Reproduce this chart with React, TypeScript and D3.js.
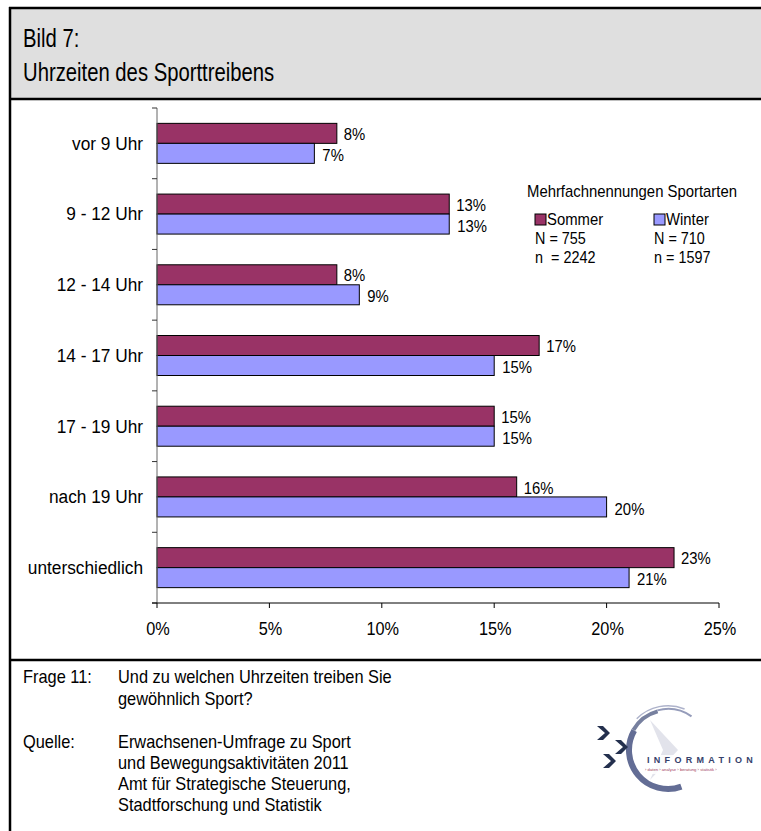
import React from "react";
import * as d3 from "d3";

const categories = ["vor 9 Uhr", "9 - 12 Uhr", "12 - 14 Uhr", "14 - 17 Uhr", "17 - 19 Uhr", "nach 19 Uhr", "unterschiedlich"];
const sommer = [8, 13, 8, 17, 15, 16, 23];
const winter = [7, 13, 9, 15, 15, 20, 21];
const xTicks = [0, 5, 10, 15, 20, 25];
const seriesNames = ["Sommer", "Winter"];
const seriesN = ["N = 755", "N = 710"];
const seriesn = ["n  = 2242", "n = 1597"];
const colors = ["#993366", "#9999FF"];

const FONT = "'Liberation Sans', Arial, sans-serif";

type TProps = {
  x: number; y: number; size: number; sx?: number; anchor?: string; fill?: string;
  children: React.ReactNode; ls?: number; weight?: string;
};
function T({ x, y, size, sx = 1, anchor = "start", fill = "#000", children, ls, weight }: TProps) {
  return (
    <text transform={`translate(${x},${y}) scale(${sx},1)`} dy="0.35em" fontSize={size}
      textAnchor={anchor} fill={fill} letterSpacing={ls} fontWeight={weight} style={{ whiteSpace: "pre" }}>
      {children}
    </text>
  );
}

export default function App() {
  const W = 761, H = 831;
  const x = d3.scaleLinear().domain([0, 25]).range([157, 719]);
  const y = d3.scaleBand<string>().domain(categories).range([108, 603]);
  const barH = 20;
  const bandCenter = (c: string) => (y(c) as number) + y.bandwidth() / 2;
  const boundaries = d3.range(categories.length + 1).map((i) => 108 + i * y.bandwidth());
  const deg = Math.PI / 180;
  const chevron = (cx: number, cy: number) =>
    `M ${cx - 5} ${cy - 7} L ${cx + 3} ${cy} L ${cx - 5} ${cy + 7} L ${cx + 1} ${cy + 7} L ${cx + 8} ${cy} L ${cx + 1} ${cy - 7} Z`;

  return (
    <svg width={W} height={H} style={{ position: "absolute", left: 0, top: 0, display: "block" }} fontFamily={FONT}>
      <rect x={0} y={0} width={W} height={H} fill="#fff" />
      {/* header */}
      <rect x={10} y={8} width={W - 10} height={91} fill="#dfdfdf" />
      <line x1={9} x2={W} y1={8} y2={8} stroke="#000" strokeWidth={2.5} />
      <line x1={9} x2={W} y1={99} y2={99} stroke="#000" strokeWidth={2.5} />
      <line x1={10} x2={10} y1={7} y2={H} stroke="#000" strokeWidth={2.5} />
      <line x1={9} x2={W} y1={660} y2={660} stroke="#000" strokeWidth={2.5} />
      <T x={23} y={38} size={26} sx={0.78}>Bild 7:</T>
      <T x={23} y={72} size={26} sx={0.78}>Uhrzeiten des Sporttreibens</T>

      {/* bars */}
      {categories.map((c, i) => {
        const cy = bandCenter(c);
        return (
          <g key={c}>
            <rect x={x(0)} y={cy - barH} width={x(sommer[i]) - x(0)} height={barH} fill={colors[0]} stroke="#000" strokeWidth={1} />
            <rect x={x(0)} y={cy} width={x(winter[i]) - x(0)} height={barH} fill={colors[1]} stroke="#000" strokeWidth={1} />
            <T x={x(sommer[i]) + 7} y={cy - 9} size={16} sx={0.93}>{sommer[i]}%</T>
            <T x={x(winter[i]) + 8} y={cy + 12} size={16} sx={0.93}>{winter[i]}%</T>
            <T x={143} y={cy} size={18} sx={0.96} anchor="end">{c}</T>
          </g>
        );
      })}

      {/* axes */}
      <line x1={157} x2={157} y1={108} y2={603} stroke="#666" strokeWidth={1} />
      {boundaries.map((b, i) => (
        <line key={i} x1={152} x2={157} y1={b} y2={b} stroke="#333" strokeWidth={1} />
      ))}
      <line x1={152} x2={x(25)} y1={603} y2={603} stroke="#000" strokeWidth={1} />
      {xTicks.map((t) => (
        <g key={t}>
          <line x1={x(t)} x2={x(t)} y1={603} y2={608} stroke="#000" strokeWidth={1} />
          <T x={x(t) + 1} y={629} size={18.5} sx={0.88} anchor="middle">{t}%</T>
        </g>
      ))}

      {/* legend */}
      <T x={527} y={191} size={16} sx={0.93}>Mehrfachnennungen Sportarten</T>
      {seriesNames.map((s, i) => {
        const lx = i === 0 ? 535 : 654;
        return (
          <g key={s}>
            <rect x={lx} y={214} width={11} height={11} fill={colors[i]} stroke="#000" strokeWidth={1} />
            <T x={lx + 12} y={219} size={16.5} sx={0.9}>{s}</T>
            <T x={lx} y={238} size={16} sx={0.9}>{seriesN[i]}</T>
            <T x={lx} y={257} size={16} sx={0.9}>{seriesn[i]}</T>
          </g>
        );
      })}

      {/* footer */}
      <g>
        <T x={23} y={677} size={18} sx={0.91}>Frage 11:</T>
        <T x={118} y={677} size={18} sx={0.91}>Und zu welchen Uhrzeiten treiben Sie</T>
        <T x={118} y={699} size={18} sx={0.91}>gewöhnlich Sport?</T>
        <T x={23} y={742} size={18} sx={0.91}>Quelle:</T>
        <T x={118} y={742} size={18} sx={0.91}>Erwachsenen-Umfrage zu Sport</T>
        <T x={118} y={763} size={18} sx={0.91}>und Bewegungsaktivitäten 2011</T>
        <T x={118} y={784} size={18} sx={0.91}>Amt für Strategische Steuerung,</T>
        <T x={118} y={805} size={18} sx={0.91}>Stadtforschung und Statistik</T>
      </g>

      {/* logo */}
      <g>
        <path d="M 650 720 L 678 750 L 650 780 L 663 750 Z" fill="#e2e3eb" />
        <g transform="translate(668,750)">
          <path d={d3.arc()({ innerRadius: 36, outerRadius: 42, startAngle: 160 * deg, endAngle: 300 * deg }) as string} fill="#636d95" />
          <path d={d3.arc()({ innerRadius: 38, outerRadius: 42, startAngle: 300 * deg, endAngle: 345 * deg }) as string} fill="#77809f" />
          <path d={d3.arc()({ innerRadius: 40, outerRadius: 42, startAngle: 345 * deg, endAngle: 395 * deg }) as string} fill="#959cba" />
          <path d={d3.arc()({ innerRadius: 43.5, outerRadius: 45, startAngle: 315 * deg, endAngle: 382 * deg }) as string} fill="#aeb3cb" />
        </g>
        <path d={chevron(602, 733)} fill="#24304e" />
        <path d={chevron(620, 747)} fill="#24304e" />
        <path d={chevron(608, 761)} fill="#24304e" />
        <rect x={644} y={755} width={117} height={19} fill="#fff" opacity={0.85} />
        <T x={647} y={760} size={9} ls={4.3} fill="#36416b" weight="bold">INFORMATION</T>
        <T x={645} y={770} size={4.2} fill="#a03c5a">› daten › analyse › beratung › statistik ›</T>
      </g>
    </svg>
  );
}
